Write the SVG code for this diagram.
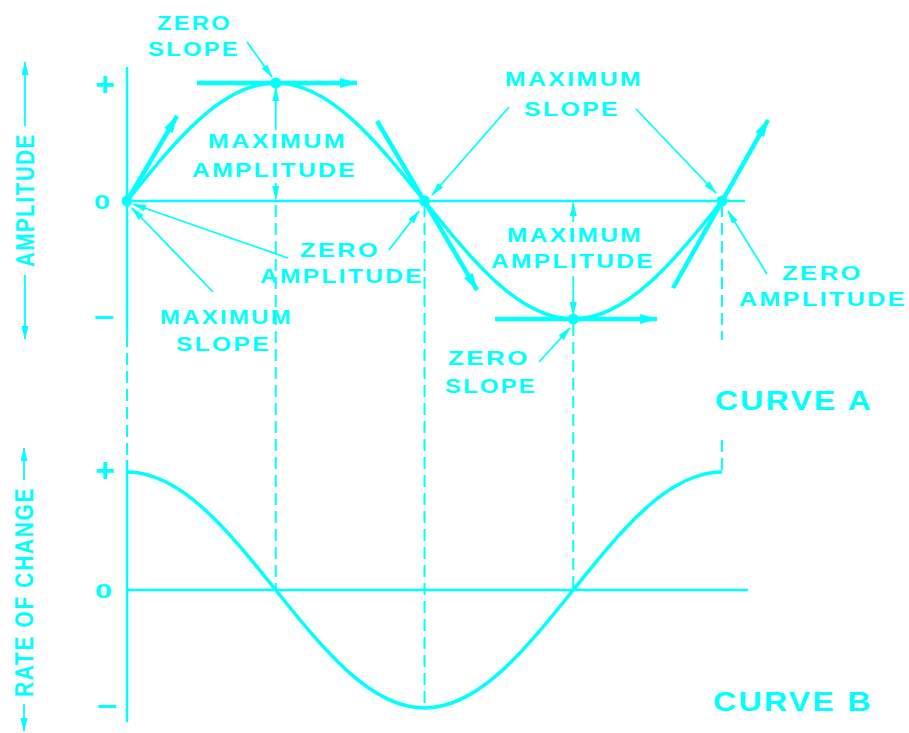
<svg xmlns="http://www.w3.org/2000/svg" width="909" height="733" viewBox="0 0 909 733">
<style>
.t{font-family:"Liberation Sans",Arial,sans-serif;font-weight:bold;fill:#00FFFF;font-size:21px;letter-spacing:2px}
.big{font-size:28px}
.vert{font-size:25px}
.plus{font-size:34px;letter-spacing:0}
.zero{font-size:20px;letter-spacing:0}
.minus{font-size:30px;letter-spacing:0}
.ax{stroke:#00FFFF;stroke-width:2.5;fill:none}
.dash{stroke:#00FFFF;stroke-width:2;fill:none;stroke-dasharray:12 6}
.crv{stroke:#00FFFF;stroke-width:3.5;fill:none}
.tan{stroke:#00FFFF;stroke-width:4.5;fill:none}
.ld{stroke:#00FFFF;stroke-width:1.8;fill:none}
.dot{fill:#00FFFF}
</style>
<defs>
<marker id="ah" markerUnits="userSpaceOnUse" markerWidth="14" markerHeight="8" refX="13" refY="3.5" orient="auto">
<path d="M0,0 L14,3.5 L0,7 z" fill="#00FFFF"/>
</marker>
<marker id="ahb" markerUnits="userSpaceOnUse" markerWidth="18" markerHeight="11" refX="17" refY="5" orient="auto">
<path d="M0,0 L18,5 L0,10 z" fill="#00FFFF"/>
</marker>
</defs>
<rect width="909" height="733" fill="#FFFFFF"/>

<g id="axes">
<line class="ax" x1="127" y1="67" x2="127" y2="335"/>
<line class="dash" x1="127" y1="335" x2="127" y2="460"/>
<line class="ax" x1="127" y1="460" x2="127" y2="722"/>
<line class="ax" x1="127" y1="201" x2="745" y2="201"/>
<line class="ax" x1="127" y1="590" x2="748" y2="590"/>
<text class="t plus" x="105" y="96" text-anchor="middle">+</text>
<text class="t zero" x="94" y="209" textLength="16" lengthAdjust="spacingAndGlyphs">0</text>
<text class="t minus" x="94" y="326" textLength="20" lengthAdjust="spacingAndGlyphs">–</text>
<text class="t plus" x="105" y="482" text-anchor="middle">+</text>
<text class="t zero" x="95" y="598" textLength="17" lengthAdjust="spacingAndGlyphs">0</text>
<text class="t minus" x="97" y="715" textLength="20" lengthAdjust="spacingAndGlyphs">–</text>
</g>

<g id="label-amplitude">
<text class="t vert" transform="translate(34,267) rotate(-90)" textLength="134" lengthAdjust="spacingAndGlyphs">AMPLITUDE</text>
</g>
<g id="label-rate">
<text class="t vert" transform="translate(33,697) rotate(-90)" textLength="210" lengthAdjust="spacingAndGlyphs">RATE OF CHANGE</text>
</g>

<g id="connectors">
<line class="ld" x1="25" y1="126" x2="25" y2="62" marker-end="url(#ah)"/>
<line class="ld" x1="25" y1="275" x2="25" y2="339" marker-end="url(#ah)"/>
<line class="ld" x1="24" y1="480" x2="24" y2="448" marker-end="url(#ah)"/>
<line class="ld" x1="24" y1="704" x2="24" y2="731" marker-end="url(#ah)"/>

<line class="dash" x1="275.75" y1="205" x2="275.75" y2="590"/>
<line class="dash" x1="424.5" y1="205" x2="424.5" y2="708"/>
<line class="dash" x1="573.25" y1="324" x2="573.25" y2="590"/>
<line class="dash" x1="722" y1="205" x2="722" y2="340"/>
<line class="dash" x1="722" y1="440" x2="722" y2="472"/>

<line class="ld" x1="275.75" y1="130" x2="275.75" y2="88" marker-end="url(#ah)"/>
<line class="ld" x1="275.75" y1="183" x2="275.75" y2="199" marker-end="url(#ah)"/>
<line class="ld" x1="573.25" y1="222" x2="573.25" y2="203" marker-end="url(#ah)"/>
<line class="ld" x1="573.25" y1="276" x2="573.25" y2="315" marker-end="url(#ah)"/>

<line class="tan" x1="127" y1="201" x2="177" y2="116" marker-end="url(#ahb)"/>
<line class="tan" x1="197" y1="83" x2="357" y2="83" marker-end="url(#ahb)"/>
<line class="tan" x1="377" y1="121" x2="477" y2="290" marker-end="url(#ahb)"/>
<line class="tan" x1="495" y1="319" x2="657" y2="319" marker-end="url(#ahb)"/>
<line class="tan" x1="673" y1="288" x2="768" y2="120" marker-end="url(#ahb)"/>

<line class="ld" x1="247" y1="42" x2="272" y2="77" marker-end="url(#ah)"/>
<line class="ld" x1="288" y1="258" x2="133" y2="204" marker-end="url(#ah)"/>
<line class="ld" x1="389" y1="250" x2="419" y2="211" marker-end="url(#ah)"/>
<line class="ld" x1="213" y1="292" x2="132" y2="208" marker-end="url(#ah)"/>
<line class="ld" x1="509" y1="107" x2="432" y2="195" marker-end="url(#ah)"/>
<line class="ld" x1="636" y1="109" x2="716" y2="193" marker-end="url(#ah)"/>
<line class="ld" x1="767" y1="274" x2="728" y2="211" marker-end="url(#ah)"/>
<line class="ld" x1="539" y1="362" x2="570" y2="328" marker-end="url(#ah)"/>
</g>

<g id="curve-a">
<path class="crv" d="M127,201 C175.51,140.55 221.92,83 275.75,83 C329.58,83 375.99,140.55 424.5,201 C473.01,261.45 519.42,319 573.25,319 C627.08,319 673.49,261.45 722,201"/>
<circle class="dot" cx="127" cy="201" r="5.5"/>
<circle class="dot" cx="275.75" cy="83" r="5.5"/>
<circle class="dot" cx="424.5" cy="201" r="5.5"/>
<circle class="dot" cx="573.25" cy="319" r="5.5"/>
<circle class="dot" cx="722" cy="201" r="5.5"/>
</g>

<g id="curve-b">
<path class="crv" d="M127,472 C180.83,472 227.24,529.55 275.75,590 C324.26,650.45 370.67,708 424.5,708 C478.33,708 524.74,650.45 573.25,590 C621.76,529.55 668.17,472 722,472"/>
</g>

<g id="lbl-zero-slope-top">
<text class="t" x="157" y="30" textLength="75" lengthAdjust="spacingAndGlyphs">ZERO</text>
<text class="t" x="148" y="56" textLength="92" lengthAdjust="spacingAndGlyphs">SLOPE</text>
</g>
<g id="lbl-max-amp-top">
<text class="t" x="208" y="148" textLength="139" lengthAdjust="spacingAndGlyphs">MAXIMUM</text>
<text class="t" x="192" y="177" textLength="165" lengthAdjust="spacingAndGlyphs">AMPLITUDE</text>
</g>
<g id="lbl-zero-amp-mid">
<text class="t" x="300" y="257" textLength="80" lengthAdjust="spacingAndGlyphs">ZERO</text>
<text class="t" x="260" y="283" textLength="164" lengthAdjust="spacingAndGlyphs">AMPLITUDE</text>
</g>
<g id="lbl-max-slope-left">
<text class="t" x="160" y="324" textLength="133" lengthAdjust="spacingAndGlyphs">MAXIMUM</text>
<text class="t" x="176" y="351" textLength="95" lengthAdjust="spacingAndGlyphs">SLOPE</text>
</g>
<g id="lbl-max-slope-right">
<text class="t" x="505" y="86" textLength="138" lengthAdjust="spacingAndGlyphs">MAXIMUM</text>
<text class="t" x="524" y="116" textLength="96" lengthAdjust="spacingAndGlyphs">SLOPE</text>
</g>
<g id="lbl-max-amp-low">
<text class="t" x="507" y="242" textLength="136" lengthAdjust="spacingAndGlyphs">MAXIMUM</text>
<text class="t" x="491" y="268" textLength="164" lengthAdjust="spacingAndGlyphs">AMPLITUDE</text>
</g>
<g id="lbl-zero-amp-right">
<text class="t" x="782" y="280" textLength="81" lengthAdjust="spacingAndGlyphs">ZERO</text>
<text class="t" x="739" y="306" textLength="168" lengthAdjust="spacingAndGlyphs">AMPLITUDE</text>
</g>
<g id="lbl-zero-slope-low">
<text class="t" x="448" y="365" textLength="82" lengthAdjust="spacingAndGlyphs">ZERO</text>
<text class="t" x="445" y="393" textLength="92" lengthAdjust="spacingAndGlyphs">SLOPE</text>
</g>
<g id="lbl-curve-a">
<text class="t big" x="715" y="410" textLength="158" lengthAdjust="spacingAndGlyphs">CURVE A</text>
</g>
<g id="lbl-curve-b">
<text class="t big" x="713" y="711" textLength="160" lengthAdjust="spacingAndGlyphs">CURVE B</text>
</g>
</svg>
